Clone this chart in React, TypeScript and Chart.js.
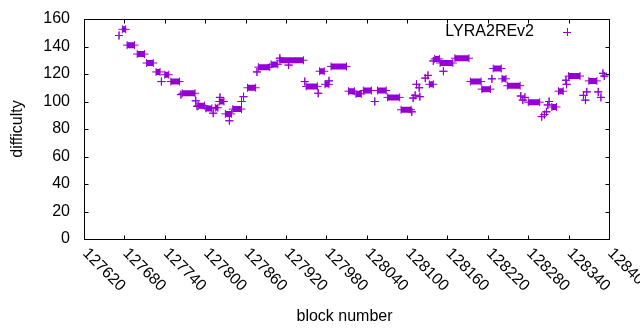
import React, { useEffect, useRef } from "react";
import { Chart, registerables } from "chart.js";

Chart.register(...registerables);

// Runs of consecutive blocks at the same difficulty (start block, end block, value)
const runStart = [
  127672, 127677, 127684, 127699, 127713, 127727, 127735, 127740, 127749, 127764,
  127766, 127786, 127788, 127790, 127801, 127812, 127815, 127821, 127822, 127830,
  127836, 127841, 127854, 127857, 127863, 127877, 127879, 127898, 127911, 127911,
  127924, 127948, 127950, 127968, 127970, 127978, 127984, 127987, 128013, 128024,
  128035, 128052, 128056, 128071, 128091, 128107, 128109, 128112, 128114, 128118,
  128119, 128127, 128131, 128133, 128139, 128141, 128149, 128154, 128171, 128194,
  128211, 128226, 128228, 128241, 128249, 128269, 128272, 128275, 128280, 128300,
  128304, 128307, 128309, 128311, 128315, 128325, 128336, 128337, 128340, 128362,
  128365, 128367, 128370, 128384, 128388, 128391, 128393,
];
const runEnd = [
  127672, 127682, 127695, 127710, 127723, 127733, 127735, 127746, 127762, 127764,
  127785, 127786, 127788, 127799, 127810, 127812, 127819, 127828, 127822, 127839,
  127836, 127854, 127854, 127857, 127875, 127877, 127896, 127908, 127911, 127946,
  127924, 127948, 127967, 127968, 127977, 127984, 127984, 128010, 128022, 128032,
  128047, 128052, 128069, 128089, 128106, 128107, 128109, 128112, 128114, 128118,
  128119, 128127, 128131, 128139, 128139, 128148, 128168, 128154, 128192, 128210,
  128224, 128226, 128240, 128247, 128268, 128269, 128272, 128275, 128297, 128300,
  128304, 128307, 128309, 128311, 128322, 128332, 128336, 128337, 128357, 128362,
  128365, 128367, 128382, 128384, 128388, 128391, 128393,
];
const runValue = [
  148, 152.5, 141, 134.5, 128, 121.5, 114.5, 119.5, 114.5, 105,
  106, 100.5, 96.5, 97, 95, 91.5, 95.5, 100, 103, 91,
  86, 94.5, 100, 103.5, 110, 121.5, 125, 127, 131.5, 130,
  126.5, 114.5, 111, 106, 122, 112.5, 115, 125.5, 107.5, 105.5,
  108, 100, 108, 103, 94, 92.5, 102.5, 104.5, 112.5, 110,
  103.5, 117, 119, 112.5, 129.5, 131, 128, 122, 131.5, 114.5,
  109, 116.5, 124, 116.5, 111.5, 104, 101, 103, 99.5, 89,
  90.5, 92.5, 97.5, 100, 96, 107.5, 115.5, 112.5, 118.5, 104.5,
  101, 107, 115, 107, 103, 120.5, 118.5,
];

const xTicks = [
  127620, 127680, 127740, 127800, 127860, 127920, 127980,
  128040, 128100, 128160, 128220, 128280, 128340, 128400,
];
const yTicks = [0, 20, 40, 60, 80, 100, 120, 140, 160];
const seriesLabel = "LYRA2REv2";
const xTitle = "block number";
const yTitle = "difficulty";

const COLOR = "#9400d3";
const FONT = "16px 'Liberation Sans', Arial, sans-serif";

const gnuplotPlugin = {
  id: "gnuplotFrame",
  beforeDatasetsDraw(chart: any) {
    const { ctx, chartArea: a, scales } = chart;
    const xs = scales.x;
    const ys = scales.y;
    ctx.save();
    ctx.strokeStyle = "#000";
    ctx.lineWidth = 1;
    ctx.beginPath();
    ctx.rect(a.left + 0.5, a.top + 0.5, a.right - a.left, a.bottom - a.top);
    ctx.stroke();
    const tl = 4;
    ctx.beginPath();
    for (const v of xTicks) {
      const px = Math.round(xs.getPixelForValue(v)) + 0.5;
      ctx.moveTo(px, a.bottom + 0.5);
      ctx.lineTo(px, a.bottom + 0.5 - tl);
      ctx.moveTo(px, a.top + 0.5);
      ctx.lineTo(px, a.top + 0.5 + tl);
    }
    for (const v of yTicks) {
      const py = Math.round(ys.getPixelForValue(v)) + 0.5;
      ctx.moveTo(a.left + 0.5, py);
      ctx.lineTo(a.left + 0.5 + tl, py);
      ctx.moveTo(a.right + 0.5, py);
      ctx.lineTo(a.right + 0.5 - tl, py);
    }
    ctx.stroke();

    ctx.fillStyle = "#000";
    ctx.font = FONT;
    // y tick labels
    ctx.textAlign = "right";
    ctx.textBaseline = "middle";
    for (const v of yTicks) {
      ctx.fillText(String(v), a.left - 14, ys.getPixelForValue(v));
    }
    // x tick labels, rotated 45 degrees clockwise
    ctx.textAlign = "left";
    for (const v of xTicks) {
      const px = xs.getPixelForValue(v);
      ctx.save();
      ctx.translate(px + 1, a.bottom + 12);
      ctx.rotate(Math.PI / 4);
      ctx.fillText(String(v), 0, 0);
      ctx.restore();
    }
    // axis titles
    ctx.textAlign = "center";
    ctx.textBaseline = "alphabetic";
    ctx.fillText(xTitle, (a.left + a.right) / 2 - 2, 321);
    ctx.save();
    ctx.translate(17.5, (a.top + a.bottom) / 2);
    ctx.rotate(-Math.PI / 2);
    ctx.textBaseline = "middle";
    ctx.fillText(yTitle, 0, 0);
    ctx.restore();
    // legend
    ctx.textAlign = "right";
    ctx.textBaseline = "middle";
    ctx.fillText(seriesLabel, 534, 32);
    ctx.strokeStyle = COLOR;
    ctx.beginPath();
    ctx.moveTo(563, 32.5);
    ctx.lineTo(571, 32.5);
    ctx.moveTo(567.5, 28);
    ctx.lineTo(567.5, 36);
    ctx.stroke();
    ctx.restore();
  },
};

export default function App() {
  const ref = useRef<HTMLCanvasElement | null>(null);
  useEffect(() => {
    if (!ref.current) return;
    const points: { x: number; y: number | null }[] = [];
    for (let i = 0; i < runStart.length; i++) {
      points.push({ x: runStart[i], y: runValue[i] });
      points.push({ x: runEnd[i], y: runValue[i] });
      points.push({ x: runEnd[i], y: null });
    }
    const chart = new Chart(ref.current, {
      type: "line",
      data: {
        datasets: [
          {
            label: seriesLabel,
            data: points as any,
            borderColor: COLOR,
            backgroundColor: COLOR,
            borderWidth: 6,
            borderCapStyle: "butt",
            pointStyle: "cross",
            pointRadius: 4,
            pointBorderWidth: 1,
            pointBorderColor: COLOR,
            pointHoverRadius: 4,
            tension: 0,
            spanGaps: false,
            fill: false,
          },
        ],
      },
      options: {
        animation: false,
        responsive: false,
        devicePixelRatio: 1,
        events: [],
        layout: { padding: { left: 0, right: 31, top: 19, bottom: 0 } },
        plugins: { legend: { display: false }, tooltip: { enabled: false } },
        scales: {
          x: {
            type: "linear",
            min: 127620,
            max: 128400,
            grid: { display: false },
            border: { display: false },
            ticks: { display: false },
            afterFit: (s: any) => {
              s.height = 91;
            },
          },
          y: {
            type: "linear",
            min: 0,
            max: 160,
            grid: { display: false },
            border: { display: false },
            ticks: { display: false },
            afterFit: (s: any) => {
              s.width = 84;
            },
          },
        },
      },
      plugins: [gnuplotPlugin],
    });
    return () => chart.destroy();
  }, []);
  return (
    <div style={{ position: "fixed", left: 0, top: 0, width: 640, height: 330, background: "#fff" }}>
      <canvas ref={ref} width={640} height={330} style={{ width: 640, height: 330, display: "block" }} />
    </div>
  );
}
